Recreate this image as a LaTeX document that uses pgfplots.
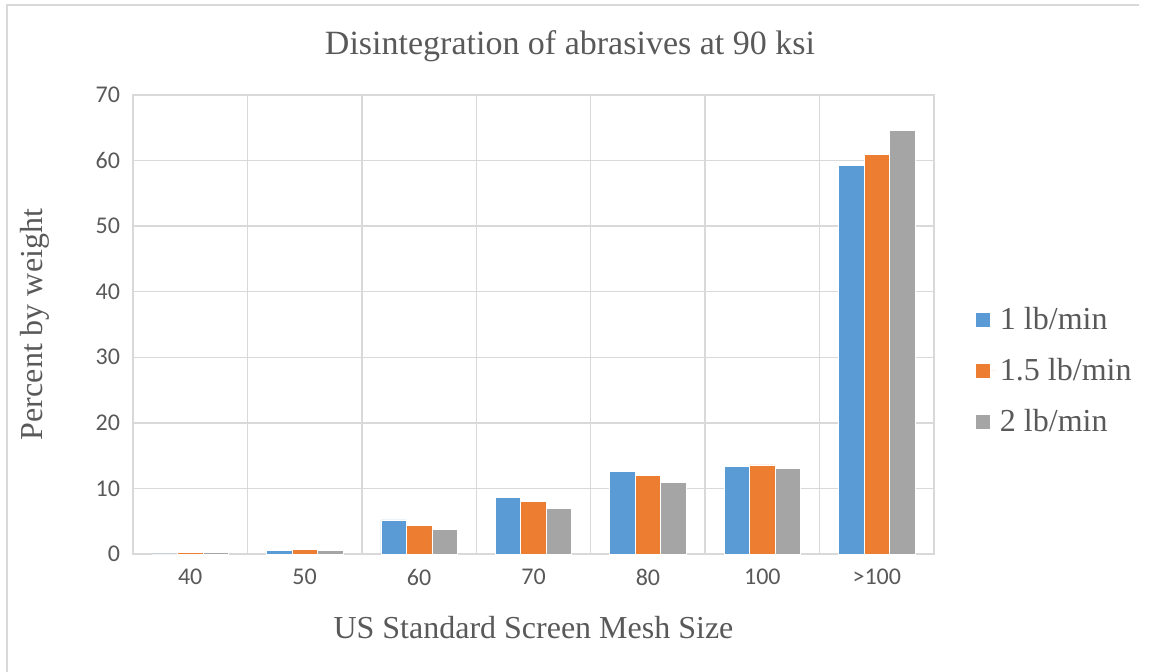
\documentclass[border=0pt]{standalone}
\usepackage{pgfplots}
\pgfplotsset{compat=1.18}
\usepackage{fontspec}
\setmainfont{Liberation Serif}
\newfontfamily\calibri{Carlito}
\definecolor{sblue}{HTML}{5B9BD5}
\definecolor{sorange}{HTML}{ED7D31}
\definecolor{sgray}{HTML}{A5A5A5}
\definecolor{gridc}{HTML}{D9D9D9}
\definecolor{txt}{HTML}{595959}
\begin{document}
\begin{tikzpicture}
\begin{axis}[
    name=ax,
    scale only axis,
    width=400.5pt, height=229.5pt,
    ybar=0pt, bar width=12.75pt,
    xmin=-0.5, xmax=6.5,
    ymin=0, ymax=70,
    ytick={0,10,...,70},
    xtick={0,...,6},
    xticklabels={40,50,60,70,80,100,>100},
    extra x ticks={0.5,1.5,...,5.5},
    extra x tick labels={},
    extra x tick style={grid=major, major grid style={gridc, line width=0.75pt}},
    ymajorgrids,
    major grid style={gridc, line width=0.75pt},
    axis line style={gridc, line width=0.75pt},
    major tick length=0pt,
    tick style={draw=none},
    ticklabel style={font=\fontsize{12}{14}\calibri, text=txt},
    xticklabel style={yshift=-4pt},
    yticklabel style={xshift=-3pt},
    /pgf/number format/assume math mode=true,
    title={Disintegration of abrasives at 90 ksi},
    title style={font=\fontsize{17}{20}\selectfont, text=txt, at={(0.5456,1.081)}, anchor=center},
    xlabel={US Standard Screen Mesh Size},
    xlabel style={font=\fontsize{16}{19}\selectfont, text=txt, at={(0.5,-0.161)}, anchor=center},
    ylabel={Percent by weight},
    ylabel style={font=\fontsize{16}{19}\selectfont, text=txt, at={(-0.1223,0.5)}, anchor=center},
    legend style={draw=none, fill=none, at={(1,0.399)}, anchor=west, xshift=17.5pt,
        font=\fontsize{16}{19}\selectfont, text=txt, row sep=9pt,
        /tikz/every even column/.append style={column sep=0pt}},
    legend cell align=left,
    legend image code/.code={\fill[#1] (0pt,-3.75pt) rectangle (7.5pt,3.75pt);
        \path (7.5pt,0pt) -- (10pt,0pt);},
    clip=false,
]
\addplot[fill=sblue, draw=white, line width=0.3pt] coordinates {
    (0,0) (1,0.6) (2,5.2) (3,8.6) (4,12.6) (5,13.3) (6,59.3)
};
\addplot[fill=sorange, draw=white, line width=0.3pt] coordinates {
    (0,0.2) (1,0.7) (2,4.4) (3,8.0) (4,12.0) (5,13.6) (6,61.0)
};
\addplot[fill=sgray, draw=white, line width=0.3pt] coordinates {
    (0,0.3) (1,0.55) (2,3.7) (3,6.9) (4,10.9) (5,13.0) (6,64.6)
};
\legend{1 lb/min, 1.5 lb/min, 2 lb/min}
\end{axis}
\begin{scope}[shift={(ax.south west)}]
\path[use as bounding box] (-66.5pt,-59pt) rectangle (508pt,277pt);
\draw[gridc, line width=0.75pt] (-63pt,-59pt) -- (-63pt,274.5pt) -- (503pt,274.5pt);
\end{scope}
\end{tikzpicture}
\end{document}
